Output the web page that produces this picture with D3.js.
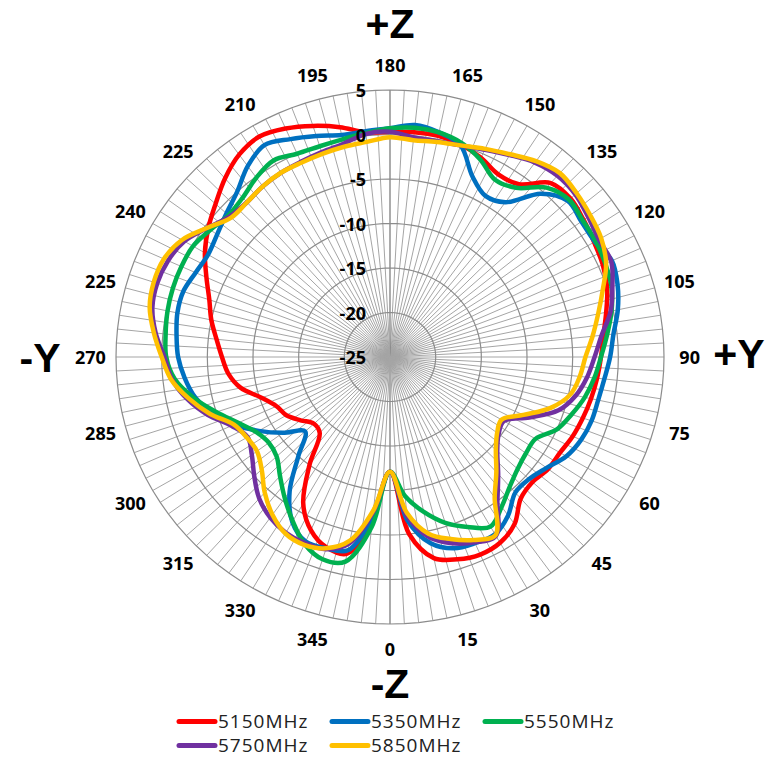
<!DOCTYPE html>
<html>
<head>
<meta charset="utf-8">
<script src="https://cdn.jsdelivr.net/npm/d3@7"></script>
<style>
  body { margin: 0; background: #fff; }
  svg text { font-family: "Open Sans", "Liberation Sans", sans-serif; }
</style>
</head>
<body>
<div id="chart"></div>
<script>
// angle of each measured point (deg), 0 = bottom, 90 = right
var angles = d3.range(0, 360, 6);
var spokeAngles = d3.range(0, 360, 3);
var ringValues = [-20, -15, -10, -5, 0, 5];
var radialTicks = [5, 0, -5, -10, -15, -20, -25];
var labelAngles = d3.range(0, 360, 15);
var angleLabels = ["0","15","30","45","60","75","90","105","120","135","150","165",
                   "180","195","210","225","240","225","270","285","300","315","330","345"];
var seriesNames = ["5150MHz", "5350MHz", "5550MHz", "5750MHz", "5850MHz"];
var seriesColors = ["#ff0000", "#0070c0", "#00b050", "#7030a0", "#ffc000"];

var s5150 = [-12.1, -5.0, -1.9, -1.1, -0.7, -0.9, -1.8, -3.6, -4.0, -3.6,
             -3.5, -3.1, -2.8, -2.5, -2.2, -1.9, -1.5, -0.8, 0.0, 0.5,
             0.8, 1.2, 1.6, 1.3, -1.0, -1.3, -0.5, 0.1, 0.4, 0.4,
             0.3, 0.4, 1.4, 2.3, 3.1, 3.6, 3.1, 2.0, 0.7, -0.4,
             -1.6, -3.0, -4.2, -5.0, -5.9, -6.6, -7.2, -8.3, -10.2, -11.4,
             -11.9, -12.9, -13.8, -13.5, -10.0, -6.0, -3.7, -2.5, -2.4, -7.0];
var s5350 = [-12.1, -6.5, -3.6, -2.4, -2.1, -2.0, -3.0, -4.5, -4.5, -3.8,
             -2.7, -2.1, -1.8, -1.7, -1.4, -0.9, -0.4, 0.5, 1.2, 1.6,
             0.9, 0.9, 1.2, -0.3, -3.5, -4.1, -2.8, 0.0, 0.8, 1.2,
             0.7, 0.5, 0.5, 1.1, 1.8, 2.5, 1.5, 0.0, -0.9, -1.6,
             -2.0, -1.7, -1.2, -1.2, -1.5, -1.8, -2.4, -3.2, -4.6, -6.3,
             -8.4, -10.5, -12.5, -10.0, -6.3, -3.6, -2.3, -2.4, -2.8, -7.0];
var s5550 = [-12.1, -9.3, -7.2, -5.4, -4.1, -3.0, -4.2, -5.4, -6.2, -6.6,
             -6.6, -5.0, -4.1, -3.2, -2.5, -1.9, -1.1, -0.2, 0.5, 0.8,
             1.0, 1.1, 1.4, 0.6, -1.5, -2.0, -0.7, 0.3, 0.8, 0.9,
             0.7, 0.3, 0.0, -0.1, 0.0, 0.5, -0.1, -0.9, -1.2, -0.7,
             -0.1, 0.0, 0.0, -0.1, -0.3, -0.5, -1.3, -3.0, -5.0, -6.8,
             -8.1, -8.6, -8.3, -7.0, -5.4, -3.7, -2.0, -1.1, -1.5, -5.8];
var s5750 = [-12.1, -7.0, -4.3, -3.0, -2.2, -1.8, -5.0, -7.3, -9.2, -10.3,
             -10.6, -8.3, -5.6, -4.2, -3.3, -2.6, -1.7, -0.3, 0.6, 1.5,
             1.4, 1.8, 2.3, 2.4, 2.0, 1.2, 0.5, 0.0, -0.2, -0.2,
             0.3, 0.2, -0.5, -0.8, -1.0, -1.1, -1.3, -1.6, -1.4, -0.3,
             1.0, 1.6, 1.8, 1.6, 0.8, -0.3, -1.0, -2.3, -4.0, -6.0,
             -7.0, -6.3, -5.0, -3.6, -2.7, -2.2, -2.1, -2.3, -3.6, -7.5];
var s5850 = [-12.1, -7.4, -4.7, -3.5, -2.5, -1.9, -5.5, -7.6, -9.4, -10.5,
             -10.9, -9.0, -6.5, -4.8, -4.1, -3.6, -2.7, -1.7, -0.5, 0.9,
             1.7, 2.1, 2.5, 2.8, 2.2, 1.3, 0.6, 0.0, -0.3, -0.5,
             -0.3, -0.7, -0.85, -1.0, -1.1, -1.1, -1.3, -1.6, -1.6, -0.3,
             1.3, 2.1, 2.2, 1.9, 1.0, 0.0, -0.9, -2.5, -4.3, -6.3,
             -6.9, -7.0, -6.1, -4.5, -3.1, -2.1, -1.9, -2.4, -3.9, -7.7];

var seriesValues = [s5150, s5350, s5550, s5750, s5850];

var width = 782, height = 758;
var cx = 390, cy = 357;
var xStretch = 274 / 267;

var r = d3.scaleLinear().domain([-25, 5]).range([0, 267]);
var ang = d3.scaleLinear().domain([0, 360]).range([0, 2 * Math.PI]);

function px(a, v) { return cx + r(v) * Math.sin(ang(a)) * xStretch; }
function py(a, v) { return cy + r(v) * Math.cos(ang(a)); }

var svg = d3.select("#chart")
  .append("svg")
  .attr("width", width)
  .attr("height", height);

// grid
var grid = svg.append("g").attr("class", "grid");

grid.selectAll("line")
  .data(spokeAngles)
  .enter().append("line")
  .attr("x1", cx)
  .attr("y1", cy)
  .attr("x2", function(a) { return px(a, 5); })
  .attr("y2", function(a) { return py(a, 5); })
  .attr("stroke", function(a) { return (a % 180 === 0) ? "#7f7f7f" : "#a5a5a5"; })
  .attr("stroke-width", function(a) { return (a % 180 === 0) ? 1.3 : 1; });

var ringLine = d3.line()
  .x(function(d) { return d[0]; })
  .y(function(d) { return d[1]; })
  .curve(d3.curveLinearClosed);

grid.selectAll("path")
  .data(ringValues)
  .enter().append("path")
  .attr("d", function(v) {
    return ringLine(spokeAngles.map(function(a) { return [px(a, v), py(a, v)]; }));
  })
  .attr("fill", "none")
  .attr("stroke", "#8c8c8c")
  .attr("stroke-width", 1.2);

// series
var line = d3.line()
  .x(function(d) { return px(d.a, d.v); })
  .y(function(d) { return py(d.a, d.v); })
  .curve(d3.curveCatmullRomClosed.alpha(0.5));

svg.append("g").attr("class", "series")
  .selectAll("path")
  .data(seriesValues)
  .enter().append("path")
  .attr("d", function(vals) {
    return line(vals.map(function(v, i) { return {a: angles[i], v: v}; }));
  })
  .attr("fill", "none")
  .attr("stroke", function(d, i) { return seriesColors[i]; })
  .attr("stroke-width", 4.5)
  .attr("stroke-linejoin", "round");

// value labels along the top axis
svg.append("g")
  .selectAll("text")
  .data(radialTicks)
  .enter().append("text")
  .attr("x", 366)
  .attr("y", function(v) { return py(180, v); })
  .attr("text-anchor", "end")
  .attr("dominant-baseline", "central")
  .attr("font-size", 18)
  .attr("font-weight", "bold")
  .attr("fill", "#000")
  .text(function(v) { return v; });

// angle labels
svg.append("g")
  .selectAll("text")
  .data(labelAngles)
  .enter().append("text")
  .attr("x", function(a) { return cx + (r(5) + 25) * Math.sin(ang(a)) * xStretch; })
  .attr("y", function(a) { return cy + (r(5) + 25) * Math.cos(ang(a)); })
  .attr("text-anchor", "middle")
  .attr("dominant-baseline", "central")
  .attr("font-size", 18)
  .attr("font-weight", "bold")
  .attr("fill", "#000")
  .text(function(a, i) { return angleLabels[i]; });

// axis names (y = baseline)
var axisNames = [
  {t: "+Z", x: 390, y: 38},
  {t: "-Z", x: 390, y: 698},
  {t: "-Y", x: 40, y: 372},
  {t: "+Y", x: 739, y: 368}
];
svg.append("g")
  .selectAll("text")
  .data(axisNames)
  .enter().append("text")
  .attr("x", function(d) { return d.x; })
  .attr("y", function(d) { return d.y; })
  .attr("text-anchor", "middle")
  .style("font-family", "'Liberation Sans', Arial, sans-serif")
  .attr("font-size", 41)
  .attr("font-weight", "bold")
  .attr("fill", "#000")
  .text(function(d) { return d.t; });

// legend (y = text baseline)
var legendPos = [[177, 728], [330, 728], [483, 728], [177, 752], [330, 752]];
var legend = svg.append("g")
  .selectAll("g")
  .data(seriesNames)
  .enter().append("g")
  .attr("transform", function(d, i) { return "translate(" + legendPos[i][0] + "," + legendPos[i][1] + ")"; });

legend.append("line")
  .attr("x1", 2).attr("x2", 38)
  .attr("y1", -6.5).attr("y2", -6.5)
  .attr("stroke", function(d, i) { return seriesColors[i]; })
  .attr("stroke-width", 5)
  .attr("stroke-linecap", "round");

legend.append("text")
  .attr("x", 41)
  .attr("y", 0)
  .attr("font-size", 19)
  .attr("letter-spacing", 1)
  .attr("fill", "#222")
  .text(function(d) { return d; });
</script>
</body>
</html>
